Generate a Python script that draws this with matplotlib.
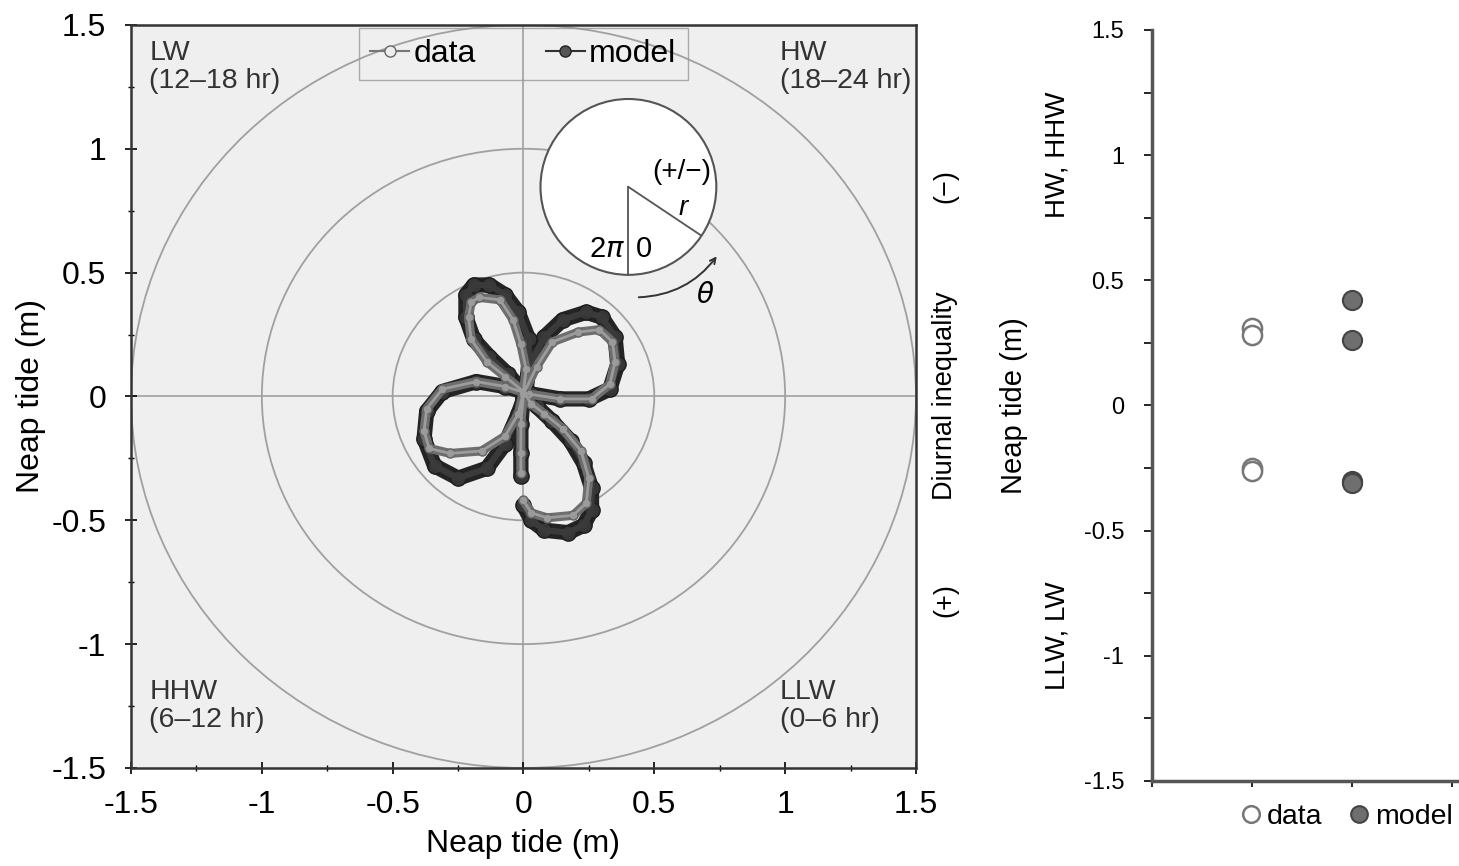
import numpy as np
import matplotlib
matplotlib.use("Agg")
import matplotlib.pyplot as plt
from matplotlib.patches import Ellipse
from matplotlib.ticker import MultipleLocator
from matplotlib.lines import Line2D

plt.rcParams['font.family'] = ['Liberation Sans', 'DejaVu Sans']

# neap tide trace over one day (x, y in m), model run
model_x = [0.00, 0.03, 0.08, 0.17, 0.23, 0.26, 0.26, 0.23, 0.18, 0.11, 0.05, 0.00,
           -0.06, -0.13, -0.19, -0.22, -0.22, -0.19, -0.13, -0.07, -0.02, 0.02, 0.02, 0.01,
           -0.02, -0.07, -0.14, -0.25, -0.34, -0.38, -0.37, -0.31, -0.18, -0.07, 0.03,
           0.14, 0.25, 0.33, 0.36, 0.35, 0.30, 0.24, 0.15, 0.08, 0.03, 0.00,
           -0.01, -0.01, -0.01]
model_y = [-0.44, -0.50, -0.54, -0.55, -0.52, -0.46, -0.37, -0.27, -0.18, -0.10, -0.04, 0.02,
           0.09, 0.16, 0.23, 0.32, 0.41, 0.45, 0.45, 0.41, 0.34, 0.23, 0.13, 0.02,
           -0.07, -0.19, -0.29, -0.33, -0.28, -0.17, -0.06, 0.02, 0.06, 0.04, 0.01,
           -0.01, -0.01, 0.03, 0.13, 0.24, 0.32, 0.34, 0.31, 0.24, 0.14, 0.01,
           -0.11, -0.23, -0.32]

# neap tide trace over one day, observations
data_x = [0.00, 0.03, 0.09, 0.19, 0.24, 0.25, 0.22, 0.15, 0.08, 0.03, 0.00,
          -0.07, -0.14, -0.20, -0.21, -0.20, -0.17, -0.09, -0.04, -0.01, 0.01, 0.00,
          -0.02, -0.07, -0.16, -0.28, -0.36, -0.38, -0.37, -0.31, -0.18, -0.07, 0.02,
          0.14, 0.26, 0.33, 0.35, 0.34, 0.29, 0.21, 0.11, 0.05, 0.00,
          -0.01, -0.01, -0.01]
data_y = [-0.42, -0.47, -0.49, -0.48, -0.43, -0.33, -0.22, -0.13, -0.07, -0.03, 0.02,
          0.08, 0.14, 0.23, 0.32, 0.38, 0.40, 0.39, 0.31, 0.21, 0.11, 0.02,
          -0.07, -0.16, -0.22, -0.23, -0.21, -0.14, -0.05, 0.03, 0.06, 0.04, 0.01,
          -0.01, -0.01, 0.05, 0.14, 0.22, 0.27, 0.26, 0.22, 0.12, 0.01,
          -0.11, -0.23, -0.31]

# high/low water levels (HW, HHW, LLW, LW)
level_data = [0.31, 0.28, -0.25, -0.26]
level_model = [0.42, 0.26, -0.30, -0.31]
rings = [0.5, 1.0, 1.5]

fig = plt.figure(figsize=(14.59, 8.66), dpi=100)

# ---- left panel: polar trace ----
ax = fig.add_axes([0.0898, 0.1132, 0.538, 0.858])
ax.set_facecolor('#efefef')
ax.set_xlim(-1.5, 1.5)
ax.set_ylim(-1.5, 1.5)
for r in rings:
    ax.add_patch(Ellipse((0, 0), 2 * r, 2 * r, fill=False, edgecolor='#a0a0a0', lw=1.3, zorder=1))
ax.axhline(0, color='#a0a0a0', lw=1.2, zorder=1)
ax.axvline(0, color='#a0a0a0', lw=1.2, zorder=1)

line_kw = dict(solid_capstyle='round', solid_joinstyle='round')
ax.plot(model_x, model_y, '-', color='#242424', lw=11, zorder=3, **line_kw)
ax.plot(model_x, model_y, 'o', ms=11, mfc='#363636', mec='#1c1c1c', mew=1, zorder=4)
ax.plot(model_x, model_y, '-', color='#3a3a3a', lw=4.5, zorder=4, **line_kw)
ax.plot(data_x, data_y, '-', color='#6e6e6e', lw=6.5, zorder=5, **line_kw)
ax.plot(data_x, data_y, 'o', ms=6.5, mfc='#999999', mec='#636363', mew=1, zorder=6)
ax.plot(data_x, data_y, '-', color='#9c9c9c', lw=2, zorder=6, **line_kw)

# schematic of r and theta
cx, cy = 0.401, 0.846
ax.add_patch(Ellipse((cx, cy), 0.672, 0.71, facecolor='white', edgecolor='#555555', lw=1.5, zorder=7))
ax.plot([cx, cx], [cy, cy - 0.355], color='#555555', lw=1.3, zorder=8)
ax.plot([cx, 0.676], [cy, 0.652], color='#555555', lw=1.3, zorder=8)
ax.text(0.605, 0.905, '(+/\u2212)', fontsize=20, ha='center', va='center', zorder=9)
ax.text(0.61, 0.76, 'r', fontsize=20, style='italic', ha='center', va='center', zorder=9)
ax.text(cx - 0.012, 0.595, r'2$\pi$', fontsize=21, ha='right', va='center', zorder=9)
ax.text(cx + 0.03, 0.595, '0', fontsize=21, ha='left', va='center', zorder=9)
ax.annotate('', xy=(0.745, 0.575), xytext=(0.43, 0.40),
            arrowprops=dict(arrowstyle='->', color='#333333', lw=1.4,
                            connectionstyle='arc3,rad=0.25'), zorder=9)
ax.text(0.695, 0.405, r'$\theta$', fontsize=20, ha='center', va='center', zorder=9)

corner_kw = dict(fontsize=20.5, color='#333333', linespacing=1.1, va='top')
ax.text(-1.43, 1.44, 'LW\n(12\u201318 hr)', ha='left', **corner_kw)
ax.text(0.98, 1.44, 'HW\n(18\u201324 hr)', ha='left', **corner_kw)
ax.text(-1.43, -1.14, 'HHW\n(6\u201312 hr)', ha='left', **corner_kw)
ax.text(0.98, -1.14, 'LLW\n(0\u20136 hr)', ha='left', **corner_kw)

handles = [Line2D([], [], color='#777777', lw=1.5, marker='o', ms=8, mfc='#eeeeee', mec='#666666'),
           Line2D([], [], color='#333333', lw=1.5, marker='o', ms=8, mfc='#555555', mec='#222222')]
leg = ax.legend(handles, ['data', 'model'], loc='upper center', ncol=2, fontsize=23,
                frameon=True, fancybox=False, handlelength=1.2, handletextpad=0.15,
                columnspacing=2.2, borderaxespad=0.1, borderpad=0.35,
                bbox_to_anchor=(0.5, 1.0))
leg.get_frame().set_facecolor('none')
leg.get_frame().set_edgecolor('#999999')
leg.set_zorder(10)

ticks = [-1.5, -1, -0.5, 0, 0.5, 1, 1.5]
labels = ['-1.5', '-1', '-0.5', '0', '0.5', '1', '1.5']
ax.set_xticks(ticks)
ax.set_xticklabels(labels)
ax.set_yticks(ticks)
ax.set_yticklabels(labels)
ax.xaxis.set_minor_locator(MultipleLocator(0.25))
ax.yaxis.set_minor_locator(MultipleLocator(0.25))
ax.tick_params(which='major', direction='inout', length=8, width=1.2, labelsize=23)
ax.tick_params(axis='x', which='major', pad=12)
ax.tick_params(axis='y', which='major', pad=14)
ax.tick_params(which='minor', direction='inout', length=5, width=1)
for s in ax.spines.values():
    s.set_color('#333333')
    s.set_linewidth(1.8)
ax.set_xlabel('Neap tide (m)', fontsize=23, labelpad=6)
ax.set_ylabel('Neap tide (m)', fontsize=23, labelpad=4)

fig.text(0.648, 0.785, '(\u2212)', rotation=90, fontsize=19.5, ha='center', va='center')
fig.text(0.648, 0.543, 'Diurnal inequality', rotation=90, fontsize=19.5, ha='center', va='center')
fig.text(0.648, 0.307, '(+)', rotation=90, fontsize=19.5, ha='center', va='center')

# ---- right panel: high/low water levels ----
bx = fig.add_axes([0.7896, 0.0982, 0.2104, 0.8672])
bx.set_xlim(0, 3.07)
bx.set_ylim(-1.5, 1.5)
bx.scatter([1] * len(level_data), level_data, s=190, facecolor='white',
           edgecolor='#777777', linewidth=1.8, zorder=3, clip_on=False)
bx.scatter([2] * len(level_model), level_model, s=190, facecolor='#6f6f6f',
           edgecolor='#444444', linewidth=1.5, zorder=3, clip_on=False)
bx.spines['top'].set_visible(False)
bx.spines['right'].set_visible(False)
for s in ('left', 'bottom'):
    bx.spines[s].set_color('#555555')
    bx.spines[s].set_linewidth(2.5)
bx.set_yticks(ticks)
bx.set_yticklabels(labels)
bx.yaxis.set_minor_locator(MultipleLocator(0.25))
bx.set_xticks([0, 1, 2, 3])
bx.set_xticklabels([])
bx.tick_params(axis='y', which='major', direction='out', length=6, width=1.2, labelsize=17, pad=14)
bx.tick_params(axis='y', which='minor', direction='out', length=6, width=1.2)
bx.tick_params(axis='x', direction='out', length=4, width=1.2)
bx.set_ylabel('Neap tide (m)', fontsize=21, labelpad=40)
bx.text(-0.95, 1.0, 'HW, HHW', rotation=90, fontsize=20, ha='center', va='center',
        transform=bx.transData, clip_on=False)
bx.text(-0.95, -0.92, 'LLW, LW', rotation=90, fontsize=20, ha='center', va='center',
        transform=bx.transData, clip_on=False)

bh = [Line2D([], [], ls='none', marker='o', ms=12, mfc='white', mec='#777777', mew=1.8),
      Line2D([], [], ls='none', marker='o', ms=12, mfc='#6f6f6f', mec='#444444', mew=1.5)]
bx.legend(bh, ['data', 'model'], loc='center', bbox_to_anchor=(0.632, -0.048), ncol=2,
          frameon=False, fontsize=20.5, handlelength=0.8, handletextpad=0.15,
          columnspacing=0.9)

fig.savefig('out.png', dpi=100)
